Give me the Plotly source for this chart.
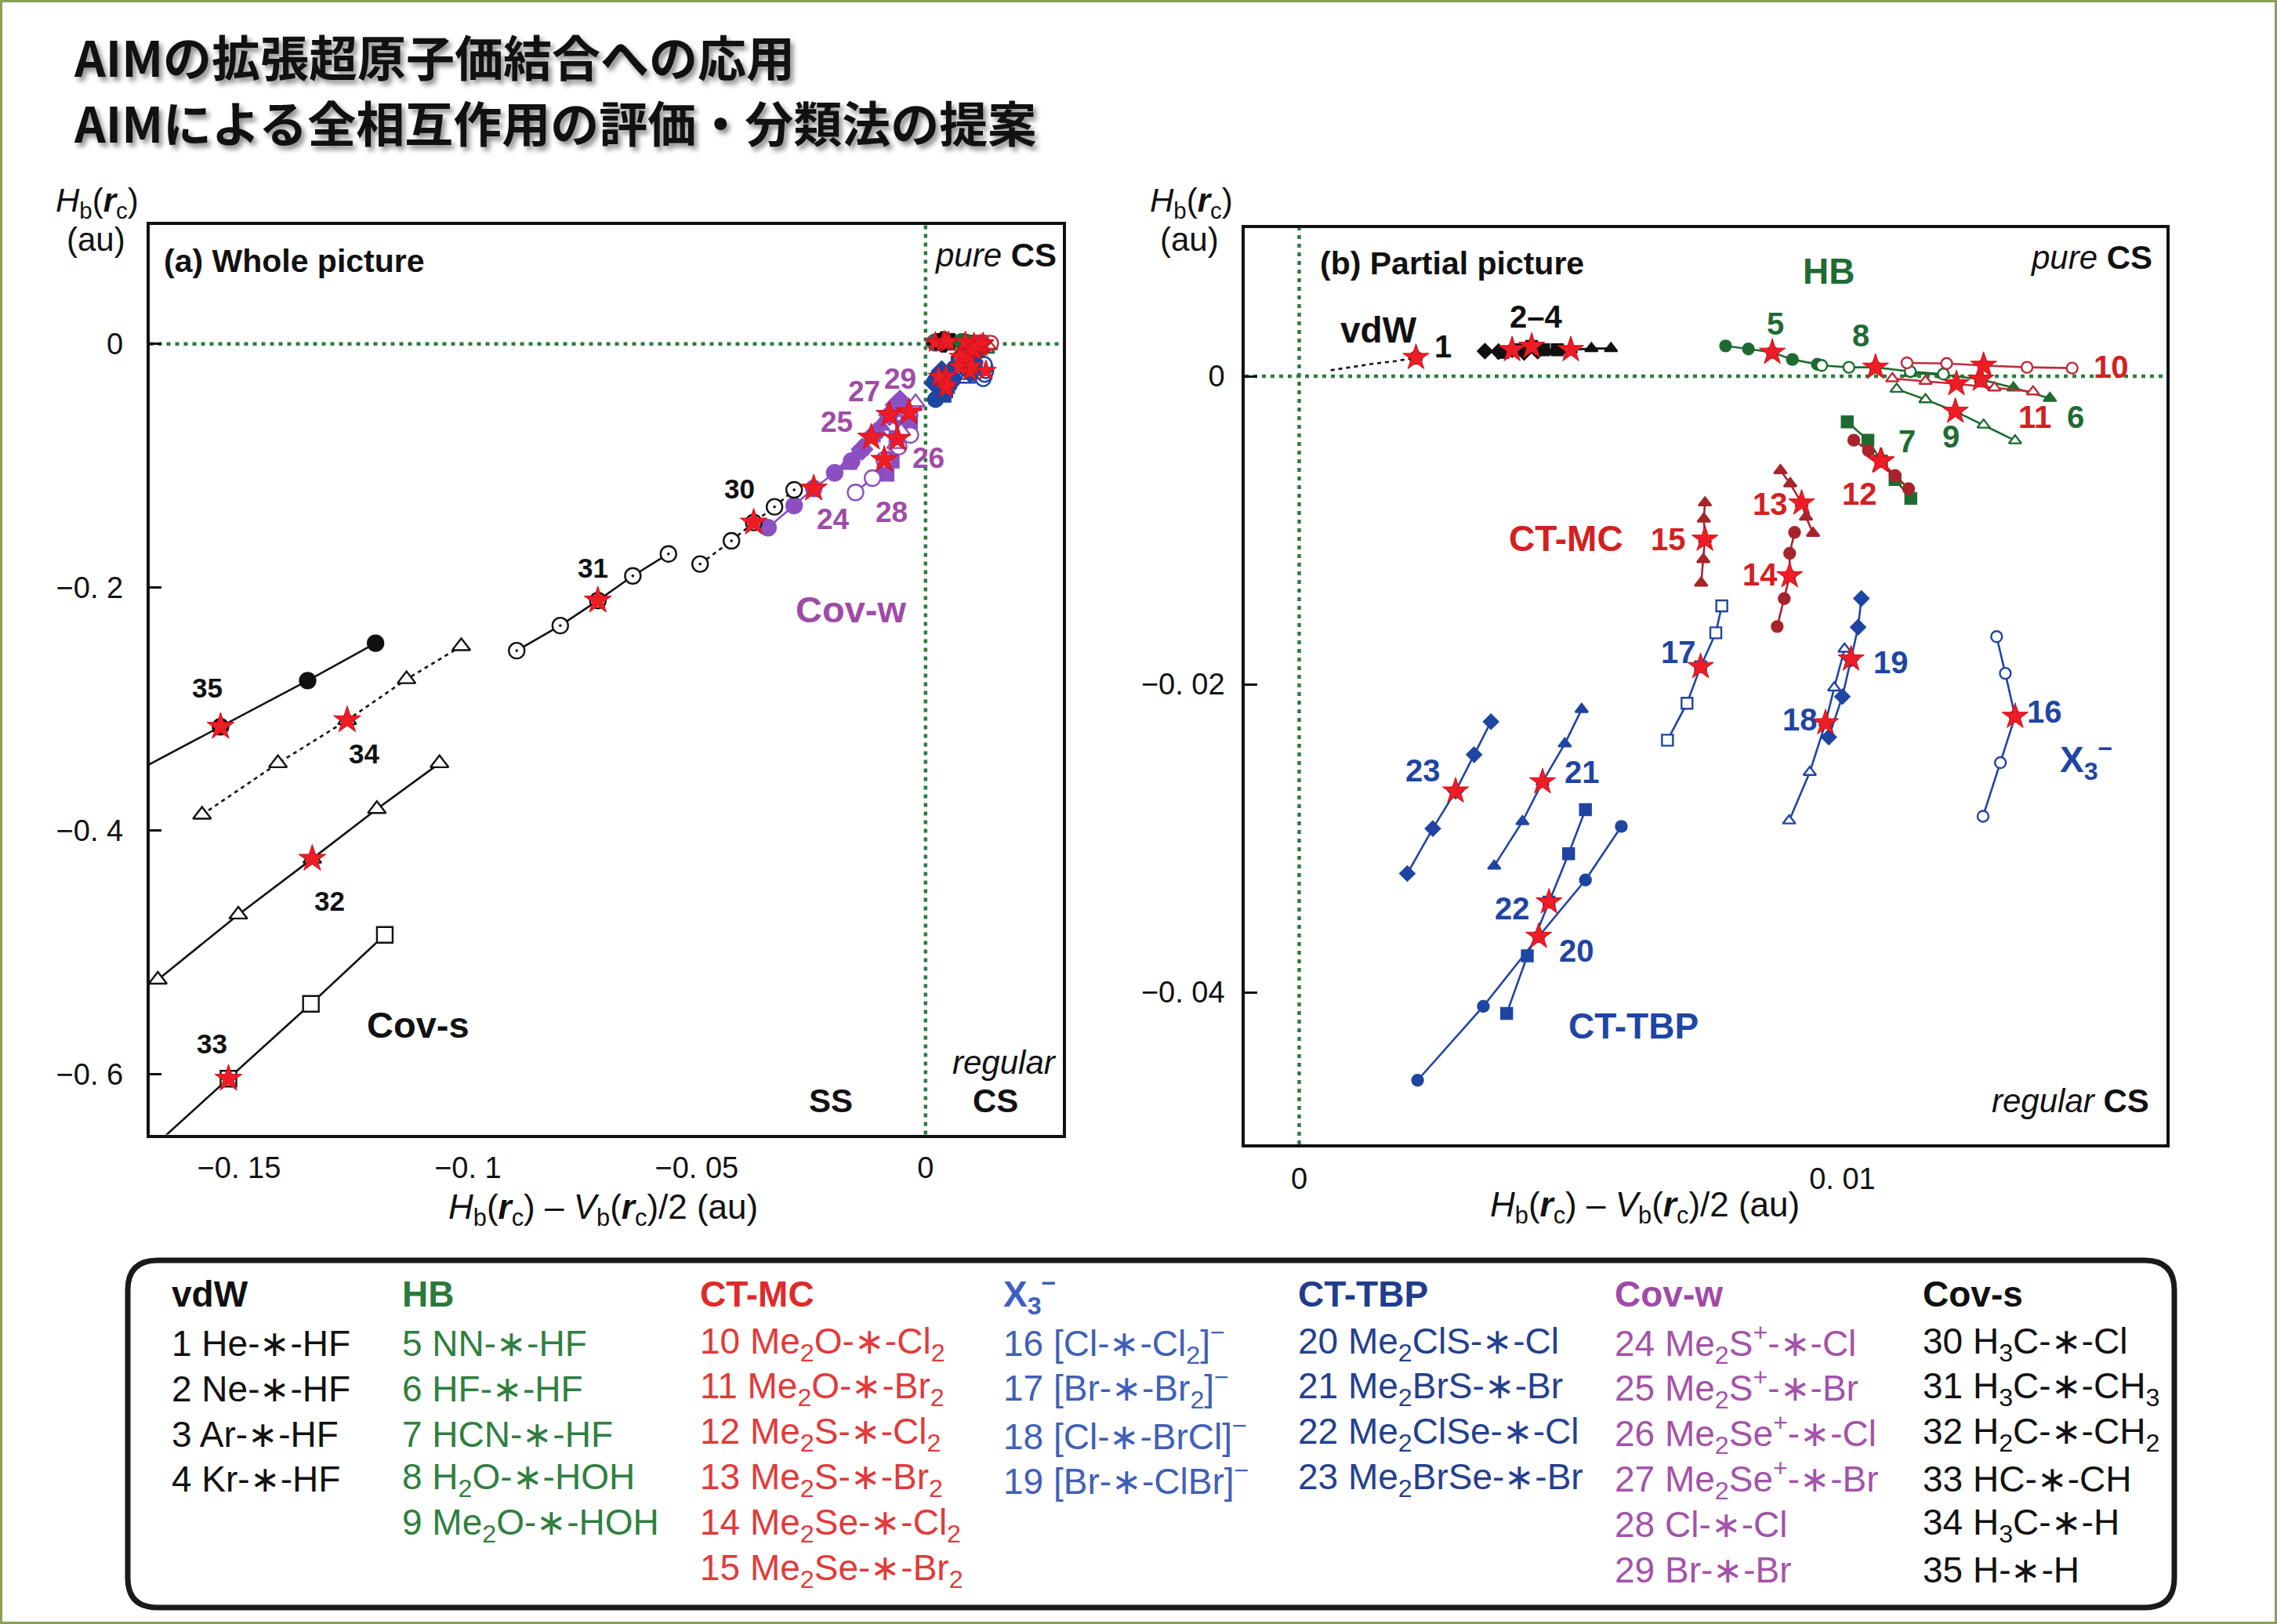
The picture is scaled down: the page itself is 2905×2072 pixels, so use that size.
import plotly.graph_objects as go

W, H = 2905, 2072

# ---------------- data (Hb - Vb/2, Hb) in au ----------------
# vdW
X1 = [0.00058, 0.00099, 0.00138, 0.00177, 0.00215]
Y1 = [0.00039, 0.00061, 0.00082, 0.00098, 0.00121]
X2 = [0.00342, 0.00367, 0.00392, 0.00414, 0.00439]
Y2 = [0.00163, 0.00160, 0.00172, 0.00155, 0.00163]
X3 = [0.00375, 0.00403, 0.00428, 0.00450, 0.00475]
Y3 = [0.00155, 0.00172, 0.00194, 0.00172, 0.00172]
X4 = [0.00469, 0.00486, 0.00500, 0.00538, 0.00574]
Y4 = [0.00163, 0.00167, 0.00172, 0.00180, 0.00180]
# HB
X5 = [0.00785, 0.00827, 0.00871, 0.00908, 0.00954]
Y5 = [0.00197, 0.00177, 0.00155, 0.00109, 0.00078]
X6 = [0.01125, 0.01186, 0.01255, 0.01315, 0.01382]
Y6 = [0.00019, 0.00010, -0.00020, -0.00075, -0.00143]
X7 = [0.01009, 0.01047, 0.01072, 0.01097, 0.01126]
Y7 = [-0.00296, -0.00415, -0.00551, -0.00670, -0.00793]
X8 = [0.00962, 0.01012, 0.01061, 0.01125, 0.01186]
Y8 = [0.00070, 0.00058, 0.00058, 0.00031, 0.00014]
X9 = [0.01100, 0.01153, 0.01208, 0.01260, 0.01318]
Y9 = [-0.00083, -0.00151, -0.00228, -0.00316, -0.00418]
# CT-MC
X10 = [0.01119, 0.01192, 0.01260, 0.01340, 0.01423]
Y10 = [0.00087, 0.00083, 0.00070, 0.00058, 0.00053]
X11 = [0.01092, 0.01153, 0.01210, 0.01280, 0.01351]
Y11 = [-0.00015, -0.00032, -0.00049, -0.00075, -0.00100]
X12 = [0.01021, 0.01048, 0.01070, 0.01097, 0.01122]
Y12 = [-0.00415, -0.00483, -0.00551, -0.00645, -0.00730]
X13 = [0.00886, 0.00904, 0.00925, 0.00933, 0.00946]
Y13 = [-0.00612, -0.00697, -0.00824, -0.00913, -0.01019]
X14 = [0.00912, 0.00903, 0.00903, 0.00893, 0.00880]
Y14 = [-0.01014, -0.01150, -0.01296, -0.01444, -0.01625]
X15 = [0.00747, 0.00745, 0.00747, 0.00744, 0.00740]
Y15 = [-0.00821, -0.00926, -0.01059, -0.01189, -0.01342]
# X3-
X16 = [0.01259, 0.01291, 0.01318, 0.01300, 0.01284]
Y16 = [-0.02857, -0.02509, -0.02209, -0.01929, -0.01691]
X17 = [0.00678, 0.00714, 0.00739, 0.00767, 0.00778]
Y17 = [-0.02363, -0.02123, -0.01886, -0.01666, -0.01491]
X18 = [0.00902, 0.00940, 0.00969, 0.00985, 0.01004]
Y18 = [-0.02886, -0.02571, -0.02251, -0.02023, -0.01771]
X19 = [0.00975, 0.01000, 0.01016, 0.01029, 0.01035]
Y19 = [-0.02343, -0.02080, -0.01837, -0.01629, -0.01443]
# CT-TBP
X20 = [0.00218, 0.00339, 0.00441, 0.00527, 0.00593]
Y20 = [-0.04571, -0.04091, -0.03637, -0.03271, -0.02923]
X21 = [0.00359, 0.00411, 0.00448, 0.00489, 0.00520]
Y21 = [-0.03180, -0.02891, -0.02634, -0.02386, -0.02163]
X22 = [0.00382, 0.00420, 0.00460, 0.00496, 0.00527]
Y22 = [-0.04137, -0.03763, -0.03414, -0.03100, -0.02814]
X23 = [0.00199, 0.00246, 0.00288, 0.00322, 0.00353]
Y23 = [-0.03229, -0.02937, -0.02694, -0.02457, -0.02243]
# Cov-w
X24 = [-0.03442, -0.02871, -0.02443, -0.01986, -0.01615]
Y24 = [-0.15100, -0.13278, -0.11880, -0.10593, -0.09627]
X25 = [-0.01701, -0.01444, -0.01187, -0.00987, -0.00816]
Y25 = [-0.09950, -0.08770, -0.07697, -0.06731, -0.05980]
X26 = [-0.00873, -0.00759, -0.00616, -0.00474, -0.00360]
Y26 = [-0.10594, -0.09521, -0.07804, -0.06946, -0.06302]
X27 = [-0.01387, -0.01102, -0.00788, -0.00645, -0.00559]
Y27 = [-0.08663, -0.07375, -0.05829, -0.05014, -0.04692]
X28 = [-0.01530, -0.01159, -0.00902, -0.00588, -0.00331]
Y28 = [-0.12204, -0.11024, -0.09521, -0.08448, -0.07482]
X29 = [-0.00645, -0.00531, -0.00360, -0.00274, -0.00217]
Y29 = [-0.08234, -0.07160, -0.05615, -0.05121, -0.04799]
# Cov-s
X30 = [-0.04926, -0.04241, -0.03755, -0.03300, -0.02871]
Y30 = [-0.18084, -0.16175, -0.14675, -0.13387, -0.11990]
X31 = [-0.08933, -0.07981, -0.07159, -0.06396, -0.05618]
Y31 = [-0.25202, -0.23142, -0.21083, -0.19059, -0.17253]
X32 = [-0.16774, -0.15015, -0.13400, -0.11988, -0.10620]
Y32 = [-0.52229, -0.46884, -0.42295, -0.38213, -0.34452]
X33 = [-0.17034, -0.15231, -0.13429, -0.11815]
Y33 = [-0.66500, -0.60362, -0.54216, -0.48545]
X34 = [-0.15808, -0.14150, -0.12637, -0.11340, -0.10144]
Y34 = [-0.38682, -0.34452, -0.30912, -0.27551, -0.24838]
X35 = [-0.17307, -0.15404, -0.13501, -0.12017]
Y35 = [-0.35230, -0.31452, -0.27660, -0.24588]

# index of the equilibrium (star) point in each series (default 2)
EQ_INDEX = {1: 4, 33: 1, 35: 1}

# tick labels
XA_TICKS = [-0.15, -0.1, -0.05, 0]
XA_TEXT = ["\u22120. 15", "\u22120. 1", "\u22120. 05", "0"]
YA_TICKS = [0, -0.2, -0.4, -0.6]
YA_TEXT = ["0", "\u22120. 2", "\u22120. 4", "\u22120. 6"]
XB_TICKS = [0, 0.01]
XB_TEXT = ["0", "0. 01"]
YB_TICKS = [0, -0.02, -0.04]
YB_TEXT = ["0", "\u22120. 02", "\u22120. 04"]

# legend table
AST = "\u2217"
LEG_HEADERS = ["vdW", "HB", "CT-MC", "X<sub>3</sub><sup>\u2212</sup>", "CT-TBP", "Cov-w", "Cov-s"]
LEG_VDW = [f"1 He-{AST}-HF", f"2 Ne-{AST}-HF", f"3 Ar-{AST}-HF", f"4 Kr-{AST}-HF"]
LEG_HB = [f"5 NN-{AST}-HF", f"6 HF-{AST}-HF", f"7 HCN-{AST}-HF",
          f"8 H<sub>2</sub>O-{AST}-HOH", f"9 Me<sub>2</sub>O-{AST}-HOH"]
LEG_CTMC = [f"10 Me<sub>2</sub>O-{AST}-Cl<sub>2</sub>", f"11 Me<sub>2</sub>O-{AST}-Br<sub>2</sub>",
            f"12 Me<sub>2</sub>S-{AST}-Cl<sub>2</sub>", f"13 Me<sub>2</sub>S-{AST}-Br<sub>2</sub>",
            f"14 Me<sub>2</sub>Se-{AST}-Cl<sub>2</sub>", f"15 Me<sub>2</sub>Se-{AST}-Br<sub>2</sub>"]
LEG_X3 = [f"16 [Cl-{AST}-Cl<sub>2</sub>]<sup>\u2212</sup>", f"17 [Br-{AST}-Br<sub>2</sub>]<sup>\u2212</sup>",
          f"18 [Cl-{AST}-BrCl]<sup>\u2212</sup>", f"19 [Br-{AST}-ClBr]<sup>\u2212</sup>"]
LEG_CTTBP = [f"20 Me<sub>2</sub>ClS-{AST}-Cl", f"21 Me<sub>2</sub>BrS-{AST}-Br",
             f"22 Me<sub>2</sub>ClSe-{AST}-Cl", f"23 Me<sub>2</sub>BrSe-{AST}-Br"]
LEG_COVW = [f"24 Me<sub>2</sub>S<sup>+</sup>-{AST}-Cl", f"25 Me<sub>2</sub>S<sup>+</sup>-{AST}-Br",
            f"26 Me<sub>2</sub>Se<sup>+</sup>-{AST}-Cl", f"27 Me<sub>2</sub>Se<sup>+</sup>-{AST}-Br",
            f"28 Cl-{AST}-Cl", f"29 Br-{AST}-Br"]
LEG_COVS = [f"30 H<sub>3</sub>C-{AST}-Cl", f"31 H<sub>3</sub>C-{AST}-CH<sub>3</sub>",
            f"32 H<sub>2</sub>C-{AST}-CH<sub>2</sub>", f"33 HC-{AST}-CH",
            f"34 H<sub>3</sub>C-{AST}-H", f"35 H-{AST}-H"]

# ---------------- styles ----------------
BLACK = "#111111"
GREEN = "#1e6b31"
RED_D = "#a8232b"
RED_L = "#c02c3a"
BLUE = "#1f45a3"
PURP = "#8c4fc2"
STAR = "#ee1c25"

# id: (color, symbol, filled, dash)
STYLE = {
    1: (BLACK, "circle", True, "5px,5px"), 2: (BLACK, "diamond", True, "solid"),
    3: (BLACK, "square", True, "solid"), 4: (BLACK, "triangle-up", True, "solid"),
    5: (GREEN, "circle", True, "solid"), 6: (GREEN, "triangle-up", True, "solid"),
    7: (GREEN, "square", True, "solid"), 8: (GREEN, "circle", False, "solid"),
    9: (GREEN, "triangle-up", False, "solid"),
    10: (RED_L, "circle", False, "solid"), 11: (RED_L, "triangle-up", False, "solid"),
    12: (RED_D, "circle", True, "solid"), 13: (RED_D, "triangle-up", True, "solid"),
    14: (RED_D, "circle", True, "solid"), 15: (RED_D, "triangle-up", True, "solid"),
    16: (BLUE, "circle", False, "solid"), 17: (BLUE, "square", False, "solid"),
    18: (BLUE, "triangle-up", False, "solid"), 19: (BLUE, "diamond", True, "solid"),
    20: (BLUE, "circle", True, "solid"), 21: (BLUE, "triangle-up", True, "solid"),
    22: (BLUE, "square", True, "solid"), 23: (BLUE, "diamond", True, "solid"),
    24: (PURP, "circle", True, "solid"), 25: (PURP, "triangle-up", True, "solid"),
    26: (PURP, "square", True, "solid"), 27: (PURP, "diamond", True, "solid"),
    28: (PURP, "circle", False, "solid"), 29: (PURP, "triangle-up", False, "solid"),
    30: (BLACK, "circle-dot", False, "5px,5px"), 31: (BLACK, "circle-dot", False, "solid"),
    32: (BLACK, "triangle-up", False, "solid"), 33: (BLACK, "square", False, "solid"),
    34: (BLACK, "triangle-up", False, "5px,5px"), 35: (BLACK, "circle", True, "solid"),
}

DATA = {i: (globals()[f"X{i}"], globals()[f"Y{i}"]) for i in range(1, 36)}

fig = go.Figure()


def add_series(i, xa, ya, msize, lw):
    xs, ys = DATA[i]
    color, sym, filled, dash = STYLE[i]
    sizes = msize
    if i == 1:
        sizes = [0] * (len(xs) - 1) + [msize + 2]
    fig.add_trace(go.Scatter(
        x=xs, y=ys, mode="lines+markers", xaxis=xa, yaxis=ya,
        line=dict(color=color, width=lw, dash=dash),
        marker=dict(symbol=sym, size=sizes, color=color if filled else "white",
                    line=dict(color=color, width=2.4)),
        showlegend=False, hoverinfo="skip"))


def add_star(i, xa, ya, size):
    xs, ys = DATA[i]
    k = EQ_INDEX.get(i, 2)
    fig.add_trace(go.Scatter(
        x=[xs[k]], y=[ys[k]], mode="markers", xaxis=xa, yaxis=ya,
        marker=dict(symbol="star", size=size, color=STAR, line=dict(color="#d01018", width=1)),
        showlegend=False, hoverinfo="skip"))


# panel (a): all series
for i in range(1, 36):
    if i >= 24:
        add_series(i, "x", "y", 20, 2.6)
    else:
        add_series(i, "x", "y", 19, 5)
for i in range(1, 36):
    add_star(i, "x", "y", 26 if i >= 24 else 20)
# panel (b): series 1-23
for i in range(1, 24):
    add_series(i, "x2", "y2", 14, 2.6)
for i in range(1, 24):
    add_star(i, "x2", "y2", 25)

# ---------------- layout ----------------
TICKFONT = dict(family="Liberation Sans, Arial, sans-serif", size=38, color=BLACK)
AX = dict(showline=True, mirror=True, linecolor=BLACK, linewidth=3.5, showgrid=False,
          zeroline=False, tickfont=TICKFONT, tickmode="array")

fig.update_layout(
    width=W, height=H, margin=dict(l=0, r=0, t=0, b=0),
    paper_bgcolor="white", plot_bgcolor="white",
    xaxis=dict(AX, domain=[190.5 / W, 1356 / W], range=[-0.1696, 0.030],
               tickvals=XA_TICKS, ticktext=XA_TEXT, ticks="", anchor="y",
               ticklabelstandoff=6),
    yaxis=dict(AX, domain=[1 - 1447.5 / H, 1 - 287 / H], range=[-0.6495, 0.0977],
               tickvals=YA_TICKS, ticktext=YA_TEXT, ticks="inside", ticklen=16,
               tickwidth=3, tickcolor=BLACK, anchor="x", ticklabelstandoff=22),
    xaxis2=dict(AX, domain=[1588 / W, 2764 / W], range=[-0.001003, 0.015967],
                tickvals=XB_TICKS, ticktext=XB_TEXT, ticks="", anchor="y2",
                ticklabelstandoff=8),
    yaxis2=dict(AX, domain=[1 - 1460 / H, 1 - 291 / H], range=[-0.04987, 0.00962],
                tickvals=YB_TICKS, ticktext=YB_TEXT, ticks="inside", ticklen=16,
                tickwidth=3, tickcolor=BLACK, anchor="x2", ticklabelstandoff=14),
)

DGREEN = "#2a7d3e"
shapes = []
for xr, yr in (("x", "y"), ("x2", "y2")):
    shapes.append(dict(type="line", xref=xr, yref=f"{yr} domain", x0=0, x1=0, y0=0, y1=1,
                       line=dict(color=DGREEN, width=4.5, dash="5px,6px"), layer="below"))
    shapes.append(dict(type="line", xref=f"{xr} domain", yref=yr, x0=0, x1=1, y0=0, y1=0,
                       line=dict(color=DGREEN, width=4.5, dash="5px,6px"), layer="below"))

# legend box (rounded rectangle)
x0, x1 = 163 / W, 2774 / W
y0, y1 = 1 - 2051 / H, 1 - 1608 / H
rx, ry = 38 / W, 38 / H
path = (f"M {x0+rx},{y1} L {x1-rx},{y1} Q {x1},{y1} {x1},{y1-ry} L {x1},{y0+ry} "
        f"Q {x1},{y0} {x1-rx},{y0} L {x0+rx},{y0} Q {x0},{y0} {x0},{y0+ry} "
        f"L {x0},{y1-ry} Q {x0},{y1} {x0+rx},{y1} Z")
shapes.append(dict(type="path", xref="paper", yref="paper", path=path,
                   line=dict(color="#1a1a1a", width=7)))
# page border
shapes.append(dict(type="rect", xref="paper", yref="paper", x0=0, x1=1, y0=0, y1=1,
                   line=dict(color="#8aa055", width=6)))
fig.update_layout(shapes=shapes)

SANS = "Liberation Sans, Arial, sans-serif"
ann = []


def T(text, x, y, size, color=BLACK, xa="center", ya="middle", family=SANS, shadow=None):
    f = dict(family=family, size=size, color=color)
    if shadow:
        f["shadow"] = shadow
    ann.append(dict(text=text, x=x / W, y=1 - y / H, xref="paper", yref="paper",
                    showarrow=False, xanchor=xa, yanchor=ya, font=f))


# title
JP = "Noto Sans CJK JP, sans-serif"
T("<b>AIMの拡張超原子価結合への応用</b>", 92, 71, 62, xa="left", family=JP,
  shadow="4px 5px 6px rgba(0,0,0,0.45)")
T("<b>AIMによる全相互作用の評価・分類法の提案</b>", 92, 155, 62, xa="left", family=JP,
  shadow="4px 5px 6px rgba(0,0,0,0.45)")

# axis titles
HB_T = "<i>H</i><sub>b</sub>(<b><i>r</i></b><sub>c</sub>)"
XT = HB_T + " \u2013 <i>V</i><sub>b</sub>(<b><i>r</i></b><sub>c</sub>)/2 (au)"
T(HB_T, 124, 258, 42)
T("(au)", 122, 306, 42)
T(HB_T, 1520, 258, 42)
T("(au)", 1517, 306, 42)
T(XT, 769, 1543, 44)
T(XT, 2098, 1540, 44)

# panel (a) texts
PURP2 = "#a04aa8"
T("<b>(a) Whole picture</b>", 207, 333, 41, xa="left")
T("<i>pure</i> <b>CS</b>", 1350, 325, 42, xa="right")
T("<b>SS</b>", 1060, 1404, 42)
T("<i>regular</i>", 1350, 1355, 42, xa="right")
T("<b>CS</b>", 1270, 1404, 42)
T("<b>Cov-w</b>", 1085, 777, 47, PURP2)
T("<b>Cov-s</b>", 533, 1307, 47)
for txt, x, y in [("35", 264, 877), ("34", 464, 961), ("32", 420, 1149), ("33", 270, 1331),
                  ("31", 757, 724), ("30", 943, 623)]:
    T(f"<b>{txt}</b>", x, y, 35)
for txt, x, y in [("24", 1063, 663), ("28", 1137, 653), ("26", 1184, 584),
                  ("25", 1067, 538), ("27", 1102, 500), ("29", 1148, 483)]:
    T(f"<b>{txt}</b>", x, y, 37, PURP2)

# panel (b) texts
GREEN_T = "#1f6b33"
RED_T = "#d42020"
T("<b>(b) Partial picture</b>", 1682, 336, 41, xa="left")
T("<i>pure</i> <b>CS</b>", 2748, 328, 42, xa="right")
T("<i>regular</i> <b>CS</b>", 2744, 1404, 42, xa="right")
T("<b>HB</b>", 2333, 346, 46, GREEN_T)
T("<b>vdW</b>", 1759, 421, 46)
T("<b>1</b>", 1841, 442, 40)
T("<b>2\u20134</b>", 1960, 404, 40)
for txt, x, y in [("5", 2265, 413), ("8", 2374, 428), ("6", 2648, 532), ("9", 2489, 557),
                  ("7", 2433, 563)]:
    T(f"<b>{txt}</b>", x, y, 40, GREEN_T)
for txt, x, y in [("10", 2693, 468), ("11", 2596, 532), ("12", 2372, 630), ("13", 2258, 643),
                  ("15", 2128, 688), ("14", 2245, 733)]:
    T(f"<b>{txt}</b>", x, y, 40, RED_T)
T("<b>CT-MC</b>", 1998, 687, 46, RED_T)
for txt, x, y in [("17", 2141, 832), ("19", 2412, 845), ("18", 2296, 918), ("16", 2608, 908),
                  ("23", 1815, 983), ("21", 2018, 985), ("22", 1929, 1159), ("20", 2011, 1213)]:
    T(f"<b>{txt}</b>", x, y, 40, BLUE)
T("<b>X<sub>3</sub><sup>\u2212</sup></b>", 2661, 969, 46, BLUE)
T("<b>CT-TBP</b>", 2084, 1309, 46, BLUE)

# legend table
COL_X = [217, 511, 891, 1278, 1654, 2058, 2451]
HEAD_C = [BLACK, "#2a7a3c", "#e02a2a", "#3d5fc0", "#1f3c8f", "#a04aa8", BLACK]
ITEM_C = [BLACK, "#2f7f3f", "#e23a3a", "#4060b8", "#24408f", "#a452aa", BLACK]
COLS = [LEG_VDW, LEG_HB, LEG_CTMC, LEG_X3, LEG_CTTBP, LEG_COVW, LEG_COVS]
for c in range(7):
    T(f"<b>{LEG_HEADERS[c]}</b>", COL_X[c], 1651, 46, HEAD_C[c], xa="left")
    for r, item in enumerate(COLS[c]):
        T(item, COL_X[c], 1714 + r * 57.8, 46, ITEM_C[c], xa="left")

fig.update_layout(annotations=ann)
fig.write_html("out.html", config={"displayModeBar": False},
               post_script="document.body.style.margin='0';document.body.style.padding='0';"
                           "document.body.style.overflow='hidden';")
